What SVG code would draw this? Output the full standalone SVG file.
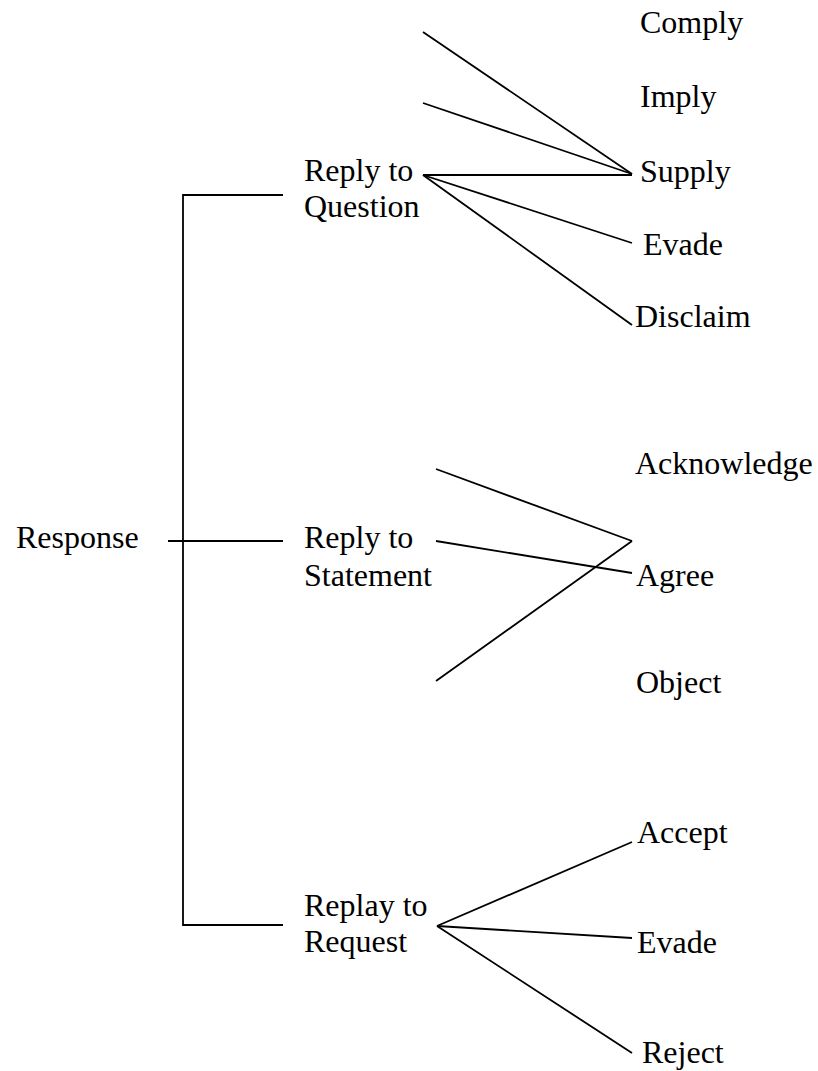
<svg xmlns="http://www.w3.org/2000/svg" width="818" height="1071" viewBox="0 0 818 1071">
<style>
text{font-family:"Liberation Serif","Times New Roman",serif;font-size:32px;fill:#000}
line,polyline{stroke:#000;stroke-width:1.8;fill:none}
</style>
<rect width="818" height="1071" fill="#fff"/>
<g id="connectors">
<polyline points="283,195 183,195 183,925 283,925"/>
<line x1="168" y1="541" x2="283" y2="541"/>
<line x1="423" y1="32" x2="632" y2="174"/>
<line x1="423" y1="103" x2="632" y2="174"/>
<line x1="423" y1="175" x2="632" y2="175"/>
<line x1="423" y1="175" x2="632" y2="243"/>
<line x1="423" y1="175" x2="632" y2="325"/>
<line x1="436" y1="469" x2="632" y2="541"/>
<line x1="436" y1="541" x2="632" y2="573"/>
<line x1="436" y1="681" x2="632" y2="541"/>
<line x1="437" y1="926" x2="632" y2="842"/>
<line x1="437" y1="926" x2="632" y2="938"/>
<line x1="437" y1="926" x2="632" y2="1053"/>
</g>
<g id="response"><text x="16" y="548">Response</text></g>
<g id="reply-question"><text x="304" y="181">Reply to</text><text x="304" y="217">Question</text></g>
<g id="reply-statement"><text x="304" y="548">Reply to</text><text x="304" y="586">Statement</text></g>
<g id="replay-request"><text x="304" y="916">Replay to</text><text x="304" y="952">Request</text></g>
<g id="comply"><text x="640" y="33">Comply</text></g>
<g id="imply"><text x="640" y="107">Imply</text></g>
<g id="supply"><text x="640" y="182">Supply</text></g>
<g id="evade-q"><text x="643" y="255">Evade</text></g>
<g id="disclaim"><text x="635" y="327">Disclaim</text></g>
<g id="acknowledge"><text x="635" y="474">Acknowledge</text></g>
<g id="agree"><text x="636" y="586">Agree</text></g>
<g id="object"><text x="636" y="693">Object</text></g>
<g id="accept"><text x="637" y="843">Accept</text></g>
<g id="evade-r"><text x="637" y="953">Evade</text></g>
<g id="reject"><text x="642" y="1063">Reject</text></g>
</svg>
